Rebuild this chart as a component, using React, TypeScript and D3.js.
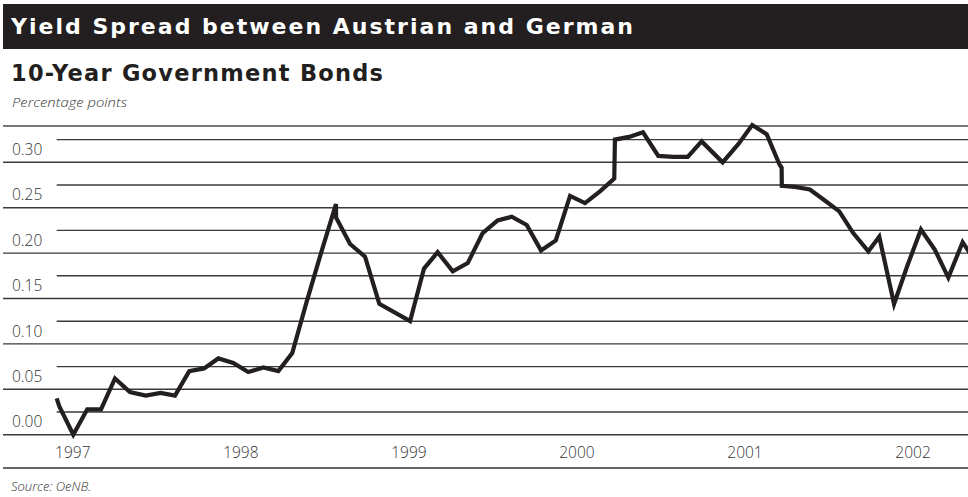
import React from "react";
import * as d3 from "d3";

const TITLE = "Yield Spread between Austrian and German";
const SUBTITLE = "10-Year Government Bonds";
const UNIT = "Percentage points";
const SOURCE = "Source: OeNB.";

const years = [1997, 1998, 1999, 2000, 2001, 2002];
const yTickLabels = ["0.00", "0.05", "0.10", "0.15", "0.20", "0.25", "0.30"];
const yTickValues = [0, 0.05, 0.1, 0.15, 0.2, 0.25, 0.3];
const gridValues = [0, 0.025, 0.05, 0.075, 0.1, 0.125, 0.15, 0.175, 0.2, 0.225, 0.25, 0.275, 0.3, 0.325];

const dates = [
  1996.904, 1996.92, 1997.003, 1997.086, 1997.168, 1997.251, 1997.34, 1997.434, 1997.523, 1997.608,
  1997.693, 1997.781, 1997.866, 1997.955, 1998.044, 1998.134, 1998.223, 1998.306, 1998.391, 1998.477,
  1998.566, 1998.567, 1998.65, 1998.739, 1998.824, 1999.007, 1999.09, 1999.171, 1999.261, 1999.35,
  1999.439, 1999.528, 1999.612, 1999.701, 1999.786, 1999.874, 1999.959, 2000.048, 2000.137, 2000.222,
  2000.226, 2000.31, 2000.393, 2000.484, 2000.573, 2000.659, 2000.742, 2000.867, 2000.96, 2001.043,
  2001.129, 2001.204, 2001.218, 2001.219, 2001.297, 2001.386, 2001.475, 2001.561, 2001.644, 2001.734,
  2001.799, 2001.887, 2001.966, 2002.047, 2002.129, 2002.21, 2002.295, 2002.374,
];

const spread = [
  0.04, 0.031, 0.0, 0.028, 0.028, 0.062, 0.047, 0.043, 0.046, 0.043,
  0.07, 0.073, 0.084, 0.079, 0.069, 0.074, 0.07, 0.09, 0.146, 0.2,
  0.254, 0.239, 0.21, 0.196, 0.144, 0.125, 0.183, 0.201, 0.18, 0.189,
  0.222, 0.236, 0.24, 0.231, 0.203, 0.214, 0.263, 0.255, 0.268, 0.282,
  0.325, 0.328, 0.333, 0.307, 0.306, 0.306, 0.323, 0.3, 0.32, 0.341,
  0.331, 0.298, 0.294, 0.274, 0.273, 0.27, 0.258, 0.246, 0.222, 0.202,
  0.218, 0.144, 0.186, 0.226, 0.204, 0.173, 0.212, 0.19,
];

const W = 968;
const H = 497;

export default function App() {
  const x = d3.scaleLinear().domain([1997, 2002]).range([72.8, 913.05]);
  const y = d3.scaleLinear().domain([0, 0.3]).range([434.7, 162.3]);
  const pts = dates.map((d, i) => [d, spread[i]] as [number, number]);
  const line = d3
    .line<[number, number]>()
    .x((d) => x(d[0]))
    .y((d) => y(d[1]));

  const labelFont = "'Open Sans', 'DejaVu Sans', sans-serif";
  const headFont = "'DejaVu Sans', Lato, sans-serif";

  return (
    <svg
      width={W}
      height={H}
      style={{ position: "absolute", left: 0, top: 0, background: "#fff" }}
    >
      <defs>
        <clipPath id="plotclip">
          <rect x={0} y={110} width={W} height={340} />
        </clipPath>
      </defs>
      <rect x={3} y={4} width={W - 3} height={45} fill="#231f20" />
      <text
        x={11}
        y={34}
        fill="#fff"
        fontFamily={headFont}
        fontWeight={700}
        fontSize={22}
        textLength={622}
        lengthAdjust="spacing"
      >
        {TITLE}
      </text>
      <text
        x={11}
        y={81}
        fill="#231f20"
        fontFamily={headFont}
        fontWeight={700}
        fontSize={22.5}
        textLength={372}
        lengthAdjust="spacing"
      >
        {SUBTITLE}
      </text>
      <text
        x={12}
        y={107}
        fill="#333"
        fontFamily={labelFont}
        fontStyle="italic"
        fontWeight={300}
        fontSize={13.5}
        textLength={115}
        lengthAdjust="spacingAndGlyphs"
      >
        {UNIT}
      </text>
      <line x1={3} x2={W} y1={126} y2={126} stroke="#777" strokeWidth={2} />

      {gridValues.map((v, i) => {
        const major = Math.abs((v / 0.05) - Math.round(v / 0.05)) < 1e-6;
        return (
          <line
            key={i}
            x1={major ? 3 : 56.7}
            x2={W}
            y1={y(v)}
            y2={y(v)}
            stroke="#3a3a3a"
            strokeWidth={1.4}
          />
        );
      })}

      {yTickValues.map((v, i) => (
        <text
          key={i}
          x={12}
          y={y(v) - 7.3}
          fill="#333"
          fontFamily={labelFont}
          fontWeight={300}
          fontSize={15.5}
        >
          {yTickLabels[i]}
        </text>
      ))}

      {years.map((yr) => (
        <text
          key={yr}
          x={x(yr)}
          y={458}
          textAnchor="middle"
          fill="#333"
          fontFamily={labelFont}
          fontWeight={300}
          fontSize={15.5}
        >
          {String(yr)}
        </text>
      ))}

      <path
        d={line(pts) || ""}
        fill="none"
        stroke="#231f20"
        strokeWidth={4.2}
        strokeLinejoin="miter"
        strokeMiterlimit={4}
        clipPath="url(#plotclip)"
      />

      <line x1={3} x2={W} y1={468} y2={468} stroke="#666" strokeWidth={2} />
      <text
        x={11}
        y={491}
        fill="#333"
        fontFamily={labelFont}
        fontStyle="italic"
        fontWeight={300}
        fontSize={13}
      >
        {SOURCE}
      </text>
    </svg>
  );
}
